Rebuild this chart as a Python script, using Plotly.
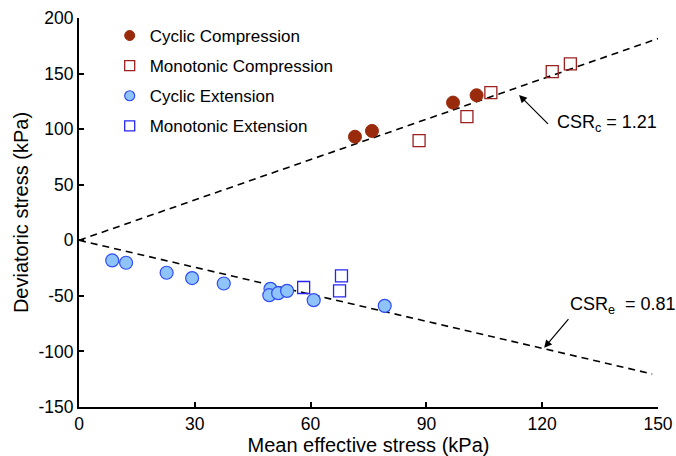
import plotly.graph_objects as go

# Mean effective stress p' (kPa) and deviatoric stress q (kPa)
cyc_comp_p = [71.5, 75.9, 96.9, 103.0]
cyc_comp_q = [93.2, 98.4, 123.9, 130.5]

mono_comp_p = [88.1, 100.5, 106.7, 122.6, 127.3]
mono_comp_q = [89.6, 111.3, 132.9, 151.8, 158.7]

cyc_ext_p = [8.6, 12.2, 22.7, 29.3, 37.5, 49.6, 49.3, 51.6, 53.9, 60.8, 79.2]
cyc_ext_q = [-18.1, -20.2, -29.2, -34.0, -38.9, -43.7, -49.4, -47.6, -45.5, -53.9, -59.0]

mono_ext_p = [58.2, 68.0, 67.5]
mono_ext_q = [-42.5, -32.0, -45.5]

# Cyclic stress ratio lines
csr_c = 1.21
csr_e = 0.81
line_c_p = [0, 150]
line_e_p = [0, 148.5]

x_ticks = [0, 30, 60, 90, 120, 150]
y_ticks = [-150, -100, -50, 0, 50, 100, 150, 200]
y_tick_text = ["-150", "-100", "-50", "0", "50", "100", "150", "200"]

FONT = "Liberation Sans, Arial, Helvetica, sans-serif"
RED_FILL = "#9a2a0c"
RED_EDGE = "#9b2020"
BLUE_FILL = "#8fc4fb"
BLUE_EDGE = "#2f4cf5"
BLUE_SQ = "#2626f0"

fig = go.Figure()

fig.add_trace(go.Scatter(x=line_c_p, y=[csr_c * p for p in line_c_p], mode="lines",
                         line=dict(color="black", width=1.6, dash="7px,5px"),
                         showlegend=False, hoverinfo="skip"))
fig.add_trace(go.Scatter(x=line_e_p, y=[-csr_e * p for p in line_e_p], mode="lines",
                         line=dict(color="black", width=1.6, dash="7px,5px"),
                         showlegend=False, hoverinfo="skip"))

cc_marker = dict(symbol="circle", color=RED_FILL, line=dict(color=RED_FILL, width=1))
mc_marker = dict(symbol="square-open", color=RED_EDGE, line=dict(width=1.3))
ce_marker = dict(symbol="circle", color=BLUE_FILL, line=dict(color=BLUE_EDGE, width=1.2))
me_marker = dict(symbol="square-open", color=BLUE_SQ, line=dict(width=1.3))

fig.add_trace(go.Scatter(x=cyc_comp_p, y=cyc_comp_q, mode="markers",
                         marker=dict(size=13, **cc_marker), showlegend=False))
fig.add_trace(go.Scatter(x=mono_comp_p, y=mono_comp_q, mode="markers",
                         marker=dict(size=12, **mc_marker), showlegend=False))
fig.add_trace(go.Scatter(x=cyc_ext_p, y=cyc_ext_q, mode="markers",
                         marker=dict(size=13, **ce_marker), showlegend=False))
fig.add_trace(go.Scatter(x=mono_ext_p, y=mono_ext_q, mode="markers",
                         marker=dict(size=12, **me_marker), showlegend=False))

# Legend entries with smaller symbols
names = ["Cyclic Compression", "Monotonic Compression", "Cyclic Extension", "Monotonic Extension"]
legend_markers = [cc_marker, mc_marker, ce_marker, me_marker]
for i, (name, mk) in enumerate(zip(names, legend_markers)):
    fig.add_trace(go.Scatter(x=[None], y=[None], mode="markers", name=name,
                             legendgroup=str(i), marker=dict(size=10, **mk)))

# CSR labels with arrows pointing at the lines
fig.add_annotation(x=114.0, y=130.8, ax=121.5, ay=104.7, axref="x", ayref="y",
                   xanchor="left", yanchor="middle", borderpad=8,
                   text="CSR<sub>c</sub> = 1.21", font=dict(size=18, color="black", family=FONT),
                   showarrow=True, arrowhead=2, arrowsize=1.3, arrowwidth=1.2,
                   arrowcolor="black")
fig.add_annotation(x=120.5, y=-96.8, ax=126.8, ay=-71.0, axref="x", ayref="y",
                   xanchor="left", yanchor="bottom", borderpad=1,
                   text="CSR<sub>e</sub>  = 0.81", font=dict(size=18, color="black", family=FONT),
                   showarrow=True, arrowhead=2, arrowsize=1.3, arrowwidth=1.2,
                   arrowcolor="black")

axis_common = dict(showline=True, linecolor="black", linewidth=2, ticks="inside",
                   ticklen=5, tickwidth=1.5, tickcolor="black", showgrid=False,
                   zeroline=False, automargin=False,
                   tickfont=dict(size=17.5, color="black", family=FONT))

fig.update_layout(
    width=676, height=456,
    margin=dict(l=79, r=18, t=18, b=49),
    plot_bgcolor="white", paper_bgcolor="white",
    font=dict(family=FONT, size=17, color="black"),
    xaxis=dict(range=[0, 150], tickvals=x_ticks,
               title=dict(text="Mean effective stress (kPa)", standoff=2,
                          font=dict(size=20)), **axis_common),
    yaxis=dict(range=[-150, 200], tickvals=y_ticks, ticktext=y_tick_text,
               title=dict(text="Deviatoric stress (kPa)", standoff=4,
                          font=dict(size=20)), **axis_common),
    legend=dict(x=0.053, y=1.0, xanchor="left", yanchor="top", bgcolor="rgba(0,0,0,0)",
                font=dict(size=17, family=FONT), tracegroupgap=5, itemsizing="trace"),
)

fig.write_html("out.html")
